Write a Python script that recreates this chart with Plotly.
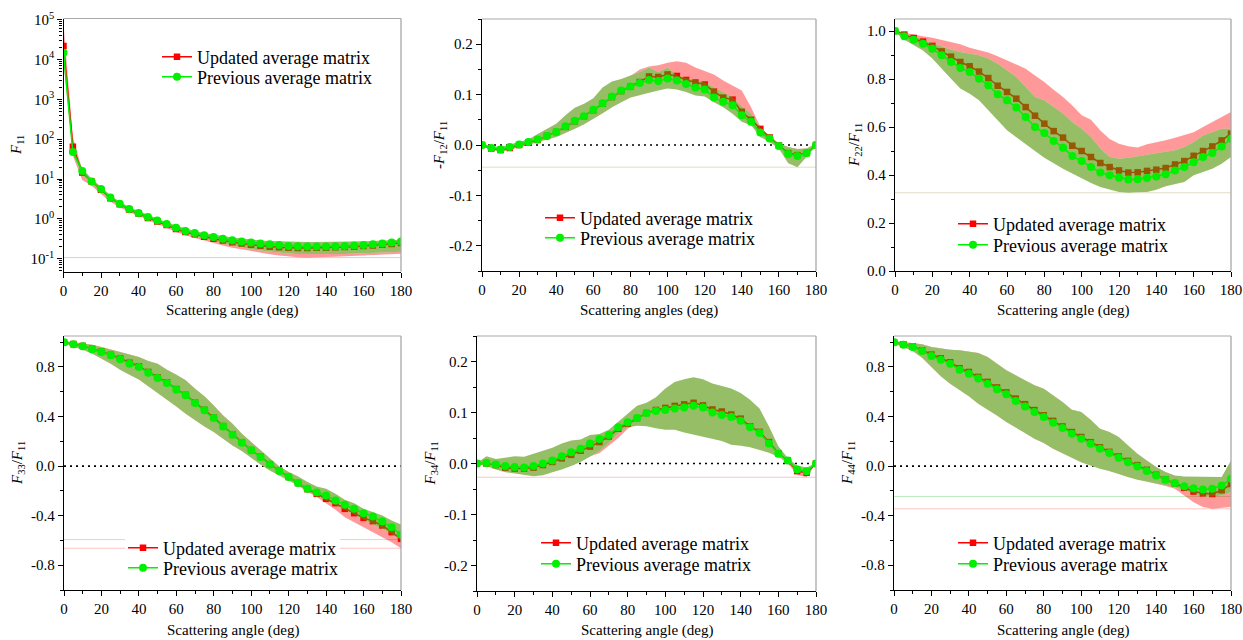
import plotly.graph_objects as go

W, H = 1243, 640


def fx(px):
    return px / W


def fy(px):
    return 1 - px / H


angles = [0, 5, 10, 15, 20, 25, 30, 35, 40, 45, 50, 55, 60, 65, 70, 75, 80, 85, 90,
          95, 100, 105, 110, 115, 120, 125, 130, 135, 140, 145, 150, 155, 160, 165, 170, 175, 180]

# ---------------- F11 ----------------
f11_upd = [22000, 65, 14.6, 8.7, 5.4, 3.3, 2.32, 1.71, 1.36, 1.06, 0.86, 0.70, 0.56, 0.47, 0.41, 0.355, 0.316,
           0.288, 0.26, 0.242, 0.224, 0.212, 0.20, 0.193, 0.19, 0.187, 0.187, 0.19, 0.19, 0.193, 0.196, 0.20,
           0.208, 0.216, 0.224, 0.233, 0.247]
f11_upd_lo = [12000, 38, 9.5, 6.8, 4.2, 2.7, 1.95, 1.47, 1.18, 0.92, 0.74, 0.60, 0.47, 0.39, 0.33, 0.28, 0.245,
              0.215, 0.19, 0.17, 0.155, 0.142, 0.13, 0.12, 0.113, 0.109, 0.107, 0.108, 0.11, 0.112, 0.114,
              0.116, 0.118, 0.122, 0.126, 0.13, 0.134]
f11_upd_hi = [80000, 115, 17, 10, 6.2, 3.8, 2.6, 1.9, 1.5, 1.17, 0.95, 0.77, 0.62, 0.52, 0.45, 0.39, 0.345,
              0.315, 0.285, 0.265, 0.25, 0.238, 0.228, 0.22, 0.217, 0.215, 0.215, 0.216, 0.217, 0.22, 0.222,
              0.225, 0.232, 0.24, 0.25, 0.26, 0.275]
f11_prev = [14700, 48, 16, 8.7, 5.6, 3.47, 2.4, 1.78, 1.41, 1.12, 0.91, 0.74, 0.60, 0.50, 0.44, 0.39, 0.35,
            0.316, 0.29, 0.27, 0.256, 0.242, 0.23, 0.22, 0.21, 0.207, 0.204, 0.204, 0.204, 0.207, 0.21, 0.215,
            0.22, 0.23, 0.242, 0.256, 0.27]
f11_prev_lo = [9000, 40, 13, 7.5, 4.9, 3.05, 2.12, 1.58, 1.25, 0.99, 0.80, 0.65, 0.52, 0.43, 0.37, 0.315, 0.275,
               0.24, 0.21, 0.19, 0.172, 0.16, 0.15, 0.142, 0.136, 0.132, 0.13, 0.13, 0.13, 0.131, 0.132,
               0.133, 0.135, 0.138, 0.142, 0.146, 0.15]
f11_prev_hi = [30000, 60, 19, 10, 6.4, 3.95, 2.7, 2.0, 1.58, 1.26, 1.02, 0.83, 0.68, 0.57, 0.50, 0.445, 0.40,
               0.37, 0.34, 0.318, 0.30, 0.288, 0.278, 0.272, 0.268, 0.266, 0.265, 0.265, 0.265, 0.266, 0.268,
               0.27, 0.274, 0.28, 0.286, 0.293, 0.30]

# ---------------- -F12/F11 ----------------
f12_upd = [0.0, -0.007, -0.010, -0.006, 0.0, 0.005, 0.010, 0.018, 0.026, 0.036, 0.047, 0.057, 0.069, 0.082,
           0.095, 0.107, 0.116, 0.125, 0.136, 0.135, 0.140, 0.137, 0.129, 0.124, 0.120, 0.106, 0.094, 0.090,
           0.066, 0.050, 0.032, 0.015, -0.001, -0.016, -0.020, -0.016, 0.0]
f12_upd_lo = [-0.002, -0.010, -0.014, -0.010, -0.005, 0.0, 0.005, 0.011, 0.016, 0.024, 0.032, 0.041, 0.052,
              0.063, 0.075, 0.085, 0.094, 0.099, 0.106, 0.110, 0.115, 0.113, 0.108, 0.102, 0.100, 0.090, 0.080,
              0.068, 0.050, 0.040, 0.020, 0.008, -0.006, -0.030, -0.040, -0.022, -0.002]
f12_upd_hi = [0.003, -0.002, -0.005, 0.0, 0.005, 0.010, 0.021, 0.031, 0.041, 0.058, 0.073, 0.081, 0.092,
              0.113, 0.125, 0.130, 0.137, 0.150, 0.156, 0.158, 0.163, 0.166, 0.163, 0.154, 0.147, 0.140, 0.128,
              0.118, 0.108, 0.075, 0.036, 0.016, 0.003, -0.004, -0.008, -0.007, 0.003]
f12_prev = [0.0, -0.006, -0.009, -0.004, 0.001, 0.006, 0.011, 0.018, 0.026, 0.037, 0.048, 0.057, 0.070, 0.083,
            0.096, 0.108, 0.116, 0.123, 0.129, 0.127, 0.132, 0.128, 0.121, 0.114, 0.110, 0.094, 0.086, 0.079,
            0.059, 0.046, 0.025, 0.013, -0.002, -0.018, -0.022, -0.016, 0.0]
f12_prev_lo = [-0.002, -0.009, -0.013, -0.009, -0.004, 0.001, 0.006, 0.011, 0.016, 0.024, 0.032, 0.041, 0.052,
               0.063, 0.075, 0.085, 0.094, 0.098, 0.103, 0.108, 0.112, 0.110, 0.105, 0.098, 0.096, 0.085,
               0.075, 0.062, 0.046, 0.039, 0.016, 0.006, -0.007, -0.036, -0.044, -0.024, -0.002]
f12_prev_hi = [0.003, -0.002, -0.004, 0.001, 0.006, 0.011, 0.022, 0.032, 0.042, 0.059, 0.074, 0.082, 0.093,
               0.114, 0.126, 0.131, 0.138, 0.145, 0.154, 0.145, 0.154, 0.138, 0.133, 0.129, 0.125, 0.114,
               0.105, 0.095, 0.077, 0.063, 0.034, 0.019, 0.003, -0.004, -0.008, -0.007, 0.003]

# ---------------- F22/F11 ----------------
f22_upd = [1.0, 0.985, 0.971, 0.956, 0.938, 0.915, 0.893, 0.871, 0.853, 0.831, 0.804, 0.772, 0.746, 0.718,
           0.683, 0.647, 0.614, 0.583, 0.556, 0.522, 0.500, 0.475, 0.450, 0.433, 0.419, 0.410, 0.411, 0.417,
           0.422, 0.429, 0.444, 0.458, 0.480, 0.500, 0.519, 0.544, 0.572]
f22_upd_lo = [0.996, 0.966, 0.943, 0.922, 0.889, 0.848, 0.806, 0.766, 0.745, 0.717, 0.676, 0.635, 0.594, 0.566,
              0.536, 0.508, 0.480, 0.458, 0.434, 0.414, 0.393, 0.374, 0.356, 0.344, 0.333, 0.328, 0.330, 0.332,
              0.343, 0.358, 0.367, 0.378, 0.406, 0.420, 0.434, 0.455, 0.483]
f22_upd_hi = [1.0, 0.992, 0.985, 0.978, 0.972, 0.962, 0.955, 0.945, 0.930, 0.920, 0.910, 0.895, 0.878, 0.862,
              0.843, 0.815, 0.787, 0.755, 0.725, 0.690, 0.649, 0.630, 0.585, 0.550, 0.530, 0.520, 0.515, 0.528,
              0.535, 0.545, 0.555, 0.565, 0.578, 0.600, 0.620, 0.640, 0.662]
f22_prev = [1.0, 0.978, 0.964, 0.947, 0.926, 0.899, 0.871, 0.846, 0.829, 0.801, 0.774, 0.736, 0.711, 0.681,
            0.642, 0.600, 0.575, 0.542, 0.514, 0.479, 0.458, 0.433, 0.410, 0.399, 0.389, 0.381, 0.382, 0.388,
            0.394, 0.403, 0.419, 0.433, 0.453, 0.475, 0.492, 0.519, 0.551]
f22_prev_lo = [0.996, 0.964, 0.940, 0.919, 0.885, 0.843, 0.801, 0.760, 0.739, 0.711, 0.669, 0.628, 0.586, 0.558,
               0.528, 0.500, 0.472, 0.450, 0.426, 0.406, 0.385, 0.367, 0.350, 0.339, 0.329, 0.326, 0.328,
               0.329, 0.339, 0.353, 0.361, 0.371, 0.399, 0.413, 0.426, 0.447, 0.475]
f22_prev_hi = [1.01, 0.989, 0.978, 0.964, 0.947, 0.933, 0.922, 0.912, 0.906, 0.899, 0.885, 0.864, 0.836, 0.808,
               0.767, 0.725, 0.711, 0.683, 0.656, 0.621, 0.593, 0.558, 0.510, 0.475, 0.468, 0.472, 0.478,
               0.486, 0.492, 0.496, 0.503, 0.517, 0.538, 0.565, 0.579, 0.593, 0.593]

# ---------------- F33/F11 ----------------
f33_upd = [1.0, 0.985, 0.970, 0.947, 0.925, 0.898, 0.868, 0.834, 0.806, 0.760, 0.716, 0.676, 0.622, 0.575,
           0.513, 0.454, 0.391, 0.323, 0.256, 0.191, 0.129, 0.075, 0.015, -0.038, -0.088, -0.137, -0.186,
           -0.224, -0.264, -0.299, -0.345, -0.380, -0.418, -0.444, -0.479, -0.533, -0.587]
f33_upd_lo = [0.989, 0.967, 0.940, 0.908, 0.867, 0.827, 0.778, 0.738, 0.698, 0.644, 0.590, 0.536, 0.482, 0.423,
              0.369, 0.320, 0.275, 0.221, 0.167, 0.121, 0.067, 0.013, -0.035, -0.075, -0.116, -0.156, -0.210,
              -0.250, -0.299, -0.353, -0.412, -0.453, -0.493, -0.533, -0.574, -0.614, -0.663]
f33_upd_hi = [1.01, 1.0, 0.994, 0.980, 0.962, 0.940, 0.916, 0.900, 0.881, 0.848, 0.827, 0.778, 0.738, 0.692,
              0.625, 0.563, 0.490, 0.409, 0.342, 0.261, 0.194, 0.127, 0.059, -0.003, -0.048, -0.084, -0.129,
              -0.170, -0.200, -0.240, -0.290, -0.320, -0.365, -0.390, -0.420, -0.470, -0.510]
f33_prev = [1.0, 0.983, 0.967, 0.943, 0.921, 0.894, 0.862, 0.827, 0.800, 0.754, 0.711, 0.671, 0.617, 0.571,
            0.509, 0.450, 0.388, 0.320, 0.253, 0.189, 0.127, 0.073, 0.013, -0.040, -0.089, -0.137, -0.183,
            -0.213, -0.237, -0.277, -0.312, -0.345, -0.380, -0.407, -0.447, -0.493, -0.555]
f33_prev_lo = [0.989, 0.967, 0.940, 0.908, 0.867, 0.827, 0.778, 0.738, 0.698, 0.644, 0.590, 0.536, 0.482, 0.423,
               0.369, 0.320, 0.275, 0.221, 0.167, 0.121, 0.067, 0.013, -0.035, -0.075, -0.116, -0.156, -0.205,
               -0.237, -0.277, -0.318, -0.353, -0.391, -0.434, -0.471, -0.506, -0.547, -0.593]
f33_prev_hi = [1.01, 1.0, 0.994, 0.980, 0.962, 0.940, 0.916, 0.900, 0.881, 0.848, 0.827, 0.778, 0.738, 0.692,
               0.625, 0.563, 0.490, 0.409, 0.342, 0.261, 0.194, 0.127, 0.059, -0.003, -0.048, -0.084, -0.129,
               -0.164, -0.183, -0.224, -0.272, -0.299, -0.345, -0.372, -0.399, -0.439, -0.471]

# ---------------- F34/F11 ----------------
f34_upd = [0.0, 0.0, -0.003, -0.008, -0.010, -0.010, -0.008, -0.003, 0.003, 0.010, 0.017, 0.025, 0.033, 0.042,
           0.053, 0.068, 0.078, 0.089, 0.099, 0.105, 0.109, 0.113, 0.116, 0.119, 0.114, 0.106, 0.102, 0.096,
           0.088, 0.073, 0.062, 0.042, 0.020, 0.006, -0.015, -0.018, 0.0]
f34_upd_lo = [-0.001, -0.005, -0.009, -0.014, -0.016, -0.016, -0.014, -0.009, -0.003, 0.004, 0.010, 0.012, 0.014,
              0.020, 0.035, 0.050, 0.068, 0.078, 0.090, 0.097, 0.101, 0.105, 0.108, 0.111, 0.106, 0.098, 0.094,
              0.088, 0.080, 0.065, 0.054, 0.034, 0.013, 0.0, -0.022, -0.027, -0.001]
f34_upd_hi = [0.001, 0.005, 0.003, -0.002, -0.004, -0.004, -0.002, 0.003, 0.009, 0.016, 0.023, 0.031, 0.039,
              0.048, 0.059, 0.074, 0.084, 0.095, 0.106, 0.112, 0.117, 0.121, 0.124, 0.127, 0.122, 0.114, 0.110,
              0.104, 0.096, 0.081, 0.070, 0.050, 0.027, 0.011, -0.008, -0.011, 0.001]
f34_prev = [0.0, 0.001, -0.002, -0.005, -0.007, -0.008, -0.005, 0.0, 0.006, 0.014, 0.022, 0.029, 0.039, 0.048,
            0.056, 0.071, 0.081, 0.089, 0.099, 0.103, 0.105, 0.108, 0.110, 0.113, 0.110, 0.100, 0.095, 0.091,
            0.084, 0.071, 0.060, 0.039, 0.019, 0.006, -0.012, -0.015, 0.0]
f34_prev_lo = [-0.001, -0.005, -0.012, -0.017, -0.019, -0.022, -0.025, -0.023, -0.017, -0.012, -0.005, 0.003,
               0.014, 0.024, 0.040, 0.060, 0.071, 0.074, 0.073, 0.069, 0.066, 0.066, 0.061, 0.056, 0.053, 0.048,
               0.044, 0.037, 0.035, 0.032, 0.027, 0.021, 0.013, 0.003, -0.015, -0.017, -0.001]
f34_prev_hi = [0.001, 0.014, 0.009, 0.011, 0.014, 0.013, 0.019, 0.024, 0.031, 0.039, 0.045, 0.047, 0.056, 0.058,
               0.066, 0.082, 0.097, 0.113, 0.119, 0.130, 0.147, 0.160, 0.165, 0.169, 0.165, 0.157, 0.152, 0.147,
               0.138, 0.125, 0.108, 0.073, 0.034, 0.011, -0.004, -0.008, 0.001]

# ---------------- F44/F11 ----------------
f44_upd = [1.0, 0.983, 0.965, 0.935, 0.900, 0.870, 0.838, 0.790, 0.760, 0.720, 0.680, 0.635, 0.595, 0.545,
           0.500, 0.452, 0.410, 0.365, 0.320, 0.275, 0.235, 0.193, 0.152, 0.115, 0.078, 0.042, 0.008, -0.030,
           -0.070, -0.108, -0.140, -0.175, -0.205, -0.220, -0.225, -0.195, -0.145]
f44_upd_lo = [0.989, 0.962, 0.929, 0.875, 0.800, 0.725, 0.665, 0.611, 0.563, 0.504, 0.455, 0.409, 0.356, 0.310,
              0.267, 0.221, 0.186, 0.140, 0.105, 0.067, 0.032, 0.005, -0.022, -0.040, -0.062, -0.089, -0.110,
              -0.129, -0.143, -0.160, -0.183, -0.237, -0.291, -0.331, -0.345, -0.337, -0.331]
f44_upd_hi = [1.01, 1.0, 0.994, 0.983, 0.962, 0.948, 0.940, 0.935, 0.927, 0.913, 0.881, 0.827, 0.773, 0.733,
              0.692, 0.652, 0.625, 0.571, 0.517, 0.455, 0.436, 0.374, 0.302, 0.275, 0.234, 0.167, 0.100, 0.046,
              -0.008, -0.048, -0.080, -0.100, -0.120, -0.130, -0.130, -0.120, -0.080]
f44_prev = [1.0, 0.980, 0.962, 0.929, 0.889, 0.859, 0.827, 0.778, 0.746, 0.706, 0.665, 0.620, 0.579, 0.525,
            0.482, 0.436, 0.396, 0.350, 0.307, 0.261, 0.221, 0.180, 0.140, 0.105, 0.067, 0.032, -0.003, -0.040,
            -0.075, -0.110, -0.137, -0.162, -0.178, -0.189, -0.183, -0.156, -0.102]
f44_prev_lo = [0.989, 0.962, 0.929, 0.875, 0.800, 0.725, 0.665, 0.611, 0.563, 0.504, 0.455, 0.409, 0.356, 0.310,
               0.267, 0.221, 0.186, 0.140, 0.105, 0.067, 0.032, 0.005, -0.022, -0.040, -0.062, -0.089, -0.110,
               -0.129, -0.143, -0.156, -0.170, -0.197, -0.224, -0.245, -0.245, -0.237, -0.210]
f44_prev_hi = [1.01, 1.0, 0.994, 0.983, 0.962, 0.948, 0.940, 0.935, 0.927, 0.913, 0.881, 0.827, 0.773, 0.733,
               0.692, 0.652, 0.625, 0.571, 0.517, 0.455, 0.436, 0.374, 0.302, 0.275, 0.234, 0.167, 0.100, 0.046,
               -0.008, -0.048, -0.075, -0.084, -0.084, -0.089, -0.089, -0.089, 0.046]

# tick labels
x_ticks = [0, 20, 40, 60, 80, 100, 120, 140, 160, 180]
x_minor = [10, 30, 50, 70, 90, 110, 130, 150, 170]
log_ticks = [0.1, 1, 10, 100, 1000, 10000, 100000]
log_text = ["10<sup>-1</sup>", "10<sup>0</sup>", "10<sup>1</sup>", "10<sup>2</sup>", "10<sup>3</sup>",
            "10<sup>4</sup>", "10<sup>5</sup>"]
small_ticks = [-0.2, -0.1, 0.0, 0.1, 0.2]
small_text = ["-0.2", "-0.1", "0.0", "0.1", "0.2"]
small_minor = [-0.25, -0.15, -0.05, 0.05, 0.15, 0.25]
unit_ticks = [0.0, 0.2, 0.4, 0.6, 0.8, 1.0]
unit_text = ["0.0", "0.2", "0.4", "0.6", "0.8", "1.0"]
unit_minor = [0.1, 0.3, 0.5, 0.7, 0.9]
sym_ticks = [-0.8, -0.4, 0.0, 0.4, 0.8]
sym_text = ["-0.8", "-0.4", "0.0", "0.4", "0.8"]
sym_minor = [-1.0, -0.6, -0.2, 0.2, 0.6, 1.0]

legend_names = ["Updated average matrix", "Previous average matrix"]
x_titles = ["Scattering angle (deg)", "Scattering angles (deg)", "Scattering angle (deg)",
            "Scattering angle (deg)", "Scattering angle (deg)", "Scattering angle (deg)"]
y_titles = ["<i>F</i><sub>11</sub>", "-<i>F</i><sub>12</sub>/<i>F</i><sub>11</sub>",
            "<i>F</i><sub>22</sub>/<i>F</i><sub>11</sub>", "<i>F</i><sub>33</sub>/<i>F</i><sub>11</sub>",
            "<i>F</i><sub>34</sub>/<i>F</i><sub>11</sub>", "<i>F</i><sub>44</sub>/<i>F</i><sub>11</sub>"]

FONT = "Liberation Serif"
RED = "#ff0000"
GREEN = "#00f000"
RED_FILL = "rgba(255,0,0,0.40)"
GREEN_FILL = "rgba(80,147,0,0.60)"
FAINT_RED = "rgba(255,80,80,0.35)"
FAINT_GREEN = "rgba(60,200,60,0.35)"
FAINT_MIX = "rgba(190,180,130,0.45)"

minor_log = []
for d in [0.01, 0.1, 1, 10, 100, 1000, 10000]:
    for m in [2, 3, 4, 5, 6, 7, 8, 9]:
        minor_log.append(round(m * d, 6))

panels = [
    dict(upd=f11_upd, ulo=f11_upd_lo, uhi=f11_upd_hi, prev=f11_prev, plo=f11_prev_lo, phi=f11_prev_hi,
         xpx=(63.5, 401), ypx=(18.5, 271.5), log=True, rng=[-1.32, 5.03], tv=log_ticks, tt=log_text,
         minor=minor_log, zero=False, faint=[("r", FAINT_RED)], leg=(157, 57, 77), ytx=17, gap=False),
    dict(upd=f12_upd, ulo=f12_upd_lo, uhi=f12_upd_hi, prev=f12_prev, plo=f12_prev_lo, phi=f12_prev_hi,
         xpx=(482, 816), ypx=(19, 271), log=False, rng=[-0.25, 0.25], tv=small_ticks, tt=small_text,
         minor=small_minor, zero=True, faint=[("g", FAINT_MIX)], leg=(540, 218, 238), ytx=440, gap=False),
    dict(upd=f22_upd, ulo=f22_upd_lo, uhi=f22_upd_hi, prev=f22_prev, plo=f22_prev_lo, phi=f22_prev_hi,
         xpx=(895, 1231), ypx=(19, 271), log=False, rng=[0.0, 1.05], tv=unit_ticks, tt=unit_text,
         minor=unit_minor, zero=False, faint=[("g", FAINT_MIX)], leg=(953, 224, 245), ytx=855, gap=False),
    dict(upd=f33_upd, ulo=f33_upd_lo, uhi=f33_upd_hi, prev=f33_prev, plo=f33_prev_lo, phi=f33_prev_hi,
         xpx=(64, 401), ypx=(336, 590), log=False, rng=[-1.0, 1.05], tv=sym_ticks, tt=sym_text,
         minor=sym_minor, zero=True, faint=[("r", FAINT_RED), ("g", FAINT_GREEN)], leg=(123, 548, 568),
         ytx=18, gap=True),
    dict(upd=f34_upd, ulo=f34_upd_lo, uhi=f34_upd_hi, prev=f34_prev, plo=f34_prev_lo, phi=f34_prev_hi,
         xpx=(477, 816), ypx=(336, 591), log=False, rng=[-0.25, 0.25], tv=small_ticks, tt=small_text,
         minor=small_minor, zero=True, faint=[("r", FAINT_RED)], leg=(536, 543, 564), ytx=430, gap=False),
    dict(upd=f44_upd, ulo=f44_upd_lo, uhi=f44_upd_hi, prev=f44_prev, plo=f44_prev_lo, phi=f44_prev_hi,
         xpx=(894, 1231), ypx=(336, 590), log=False, rng=[-1.0, 1.05], tv=sym_ticks, tt=sym_text,
         minor=sym_minor, zero=True, faint=[("r", FAINT_RED), ("g", FAINT_GREEN)], leg=(953, 543, 564),
         ytx=848, gap=False),
]

fig = go.Figure()
layout = dict(width=W, height=H, margin=dict(l=0, r=0, t=0, b=0, autoexpand=False), paper_bgcolor="white",
              plot_bgcolor="white", font=dict(family=FONT, size=15, color="black"), showlegend=True)
shapes = []
annotations = []

for i, p in enumerate(panels):
    k = i + 1
    xa = "x" if k == 1 else f"x{k}"
    ya = "y" if k == 1 else f"y{k}"
    xname = "xaxis" if k == 1 else f"xaxis{k}"
    yname = "yaxis" if k == 1 else f"yaxis{k}"
    lg1 = "legend" if k == 1 else f"legend{2 * k - 1}"
    lg2 = f"legend{2 * k}"

    band_x = angles + angles[::-1]
    fig.add_trace(go.Scatter(x=band_x, y=p["uhi"] + p["ulo"][::-1], fill="toself", fillcolor=RED_FILL,
                             line=dict(width=0), mode="lines", showlegend=False, hoverinfo="skip",
                             xaxis=xa, yaxis=ya))
    fig.add_trace(go.Scatter(x=band_x, y=p["phi"] + p["plo"][::-1], fill="toself", fillcolor="white",
                             line=dict(width=0), mode="lines", showlegend=False, hoverinfo="skip",
                             xaxis=xa, yaxis=ya))
    fig.add_trace(go.Scatter(x=angles, y=p["upd"], mode="lines+markers", name=legend_names[0],
                             line=dict(color=RED, width=1.5),
                             marker=dict(symbol="square", size=6.5, color=RED),
                             xaxis=xa, yaxis=ya, legend=lg1))
    fig.add_trace(go.Scatter(x=band_x, y=p["phi"] + p["plo"][::-1], fill="toself", fillcolor=GREEN_FILL,
                             line=dict(width=0), mode="lines", showlegend=False, hoverinfo="skip",
                             xaxis=xa, yaxis=ya))
    fig.add_trace(go.Scatter(x=angles, y=p["prev"], mode="lines+markers", name=legend_names[1],
                             line=dict(color=GREEN, width=1.5),
                             marker=dict(symbol="circle", size=8, color=GREEN),
                             xaxis=xa, yaxis=ya, legend=lg2))

    x0, x1 = p["xpx"]
    y0, y1 = p["ypx"]
    layout[xname] = dict(domain=[fx(x0), fx(x1)], anchor=ya, range=[0, 180], tickmode="array",
                         tickvals=x_ticks, ticks="outside", ticklen=5, tickwidth=1, tickcolor="black",
                         showline=True, linecolor="black", linewidth=1.3, showgrid=False, zeroline=False,
                         automargin=False,
                         tickfont=dict(family=FONT, size=15, color="black"),
                         minor=dict(tickmode="array", tickvals=x_minor, ticks="outside", ticklen=3,
                                    tickcolor="black", tickwidth=1, showgrid=False))
    ydict = dict(domain=[fy(y1), fy(y0)], anchor=xa, range=p["rng"], tickmode="array",
                 tickvals=p["tv"], ticktext=p["tt"], ticks="outside", ticklen=5, tickwidth=1,
                 tickcolor="black", showline=True, linecolor="black", linewidth=1.3, showgrid=False,
                 zeroline=False, automargin=False, tickfont=dict(family=FONT, size=15, color="black"),
                 minor=dict(tickmode="array", tickvals=p["minor"], ticks="outside", ticklen=3,
                            tickcolor="black", tickwidth=1, showgrid=False))
    if p["log"]:
        ydict["type"] = "log"
    layout[yname] = ydict

    shapes.append(dict(type="line", xref=f"{xa} domain", yref=f"{ya} domain", x0=0, x1=1, y0=1, y1=1,
                       line=dict(color="#a8a8a8", width=1)))
    shapes.append(dict(type="line", xref=f"{xa} domain", yref=f"{ya} domain", x0=1, x1=1, y0=0, y1=1,
                       line=dict(color="#a8a8a8", width=1.3)))
    if p["zero"]:
        shapes.append(dict(type="line", xref=f"{xa} domain", yref=ya, x0=0, x1=1, y0=0, y1=0, layer="below",
                           line=dict(color="black", width=1.6, dash="2px,4px")))
    for which, col in p["faint"]:
        level = min(p["ulo"]) if which == "r" else min(p["plo"])
        shapes.append(dict(type="line", xref=f"{xa} domain", yref=ya, x0=0, x1=1, y0=level, y1=level,
                           layer="below", line=dict(color=col, width=1)))

    lx, r1, r2 = p["leg"]
    if p["gap"]:
        shapes.append(dict(type="rect", xref="paper", yref="paper", x0=fx(lx + 2), x1=fx(lx + 217),
                           y0=fy(r1 + 11), y1=fy(r1 - 12), layer="below",
                           fillcolor="white", line=dict(width=0)))
    for name, ry in ((lg1, r1), (lg2, r2)):
        layout[name] = dict(x=fx(lx), y=fy(ry), xanchor="left", yanchor="middle",
                            bgcolor="rgba(255,255,255,0)", borderwidth=0,
                            font=dict(family=FONT, size=18, color="black"))

    row_bottom = 310 if y1 < 320 else 630
    annotations.append(dict(text=x_titles[i], x=fx((x0 + x1) / 2), y=fy(row_bottom), xref="paper",
                            yref="paper", showarrow=False, xanchor="center", yanchor="middle",
                            font=dict(family=FONT, size=15, color="black")))
    annotations.append(dict(text=y_titles[i], x=fx(p["ytx"]), y=fy((y0 + y1) / 2), xref="paper",
                            yref="paper", showarrow=False, xanchor="center", yanchor="middle", textangle=-90,
                            font=dict(family=FONT, size=15, color="black")))

layout["shapes"] = shapes
layout["annotations"] = annotations
fig.update_layout(**layout)
# remove the page's default body margin so the 1243x640 figure fills the window exactly
fig.write_html("out.html", config={"displayModeBar": False},
               post_script="document.body.style.margin='0px';document.body.style.overflow='hidden';")
